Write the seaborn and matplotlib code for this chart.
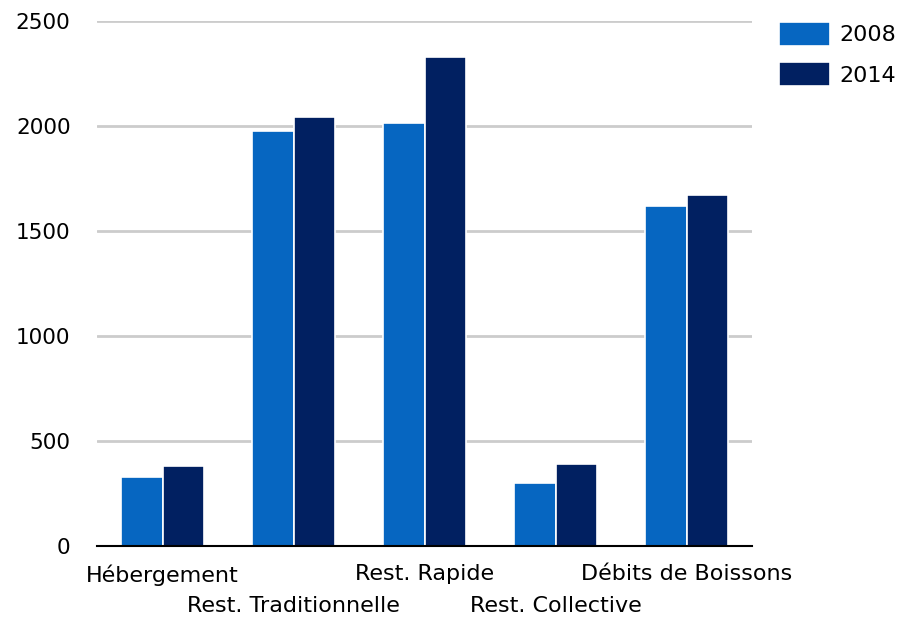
import pandas as pd
import matplotlib
matplotlib.use('Agg')
import matplotlib.pyplot as plt
import seaborn as sns

# valeurs
categories = ['Hébergement', 'Rest. Traditionnelle', 'Rest. Rapide',
              'Rest. Collective', 'Débits de Boissons']
years = ['2008', '2014']
val_2008 = [330, 1975, 2015, 300, 1620]
val_2014 = [380, 2045, 2330, 390, 1670]
y_ticks = [0, 500, 1000, 1500, 2000, 2500]

colors = {'2008': '#0666c1', '2014': '#012061'}

df = pd.DataFrame({
    'categorie': categories * 2,
    'annee': [years[0]] * len(categories) + [years[1]] * len(categories),
    'valeur': val_2008 + val_2014,
})

sns.set_style('white')
plt.rcParams['font.family'] = ['DejaVu Sans']
plt.rcParams['text.color'] = 'black'
plt.rcParams['xtick.color'] = 'black'
plt.rcParams['ytick.color'] = 'black'

fig = plt.figure(figsize=(9.02, 6.22), dpi=100)
ax = fig.add_axes([97 / 902, 1 - 546 / 622, 655 / 902, 525 / 622])

sns.barplot(data=df, x='categorie', y='valeur', hue='annee', palette=colors,
            saturation=1, width=0.64, edgecolor='white', linewidth=1.2,
            ax=ax, legend=True)

ax.set_xlim(-0.5, 4.5)
ax.set_ylim(0, 2500)
ax.set_yticks(y_ticks)
ax.set_yticklabels([str(t) for t in y_ticks], fontsize=15.5)
ax.yaxis.grid(True, color='#cccccc', linewidth=2)
ax.set_axisbelow(True)

# étiquettes en quinconce : paires en haut (majeures), impaires en bas (mineures)
pos = list(range(len(categories)))
ax.set_xticks(pos[::2])
ax.set_xticklabels(categories[::2], fontsize=16)
ax.set_xticks(pos[1::2], minor=True)
ax.set_xticklabels(categories[1::2], minor=True, fontsize=16)
ax.tick_params(axis='y', length=0, pad=19)
ax.tick_params(axis='x', which='major', length=0, pad=13)
ax.tick_params(axis='x', which='minor', length=0, pad=36)
ax.set_xlabel('')
ax.set_ylabel('')

for side in ['left', 'right', 'top']:
    ax.spines[side].set_visible(False)
ax.spines['bottom'].set_color('black')
ax.spines['bottom'].set_linewidth(1.5)

handles, lbls = ax.get_legend_handles_labels()
ax.get_legend().remove()
fig.legend(handles, lbls, loc='upper left', bbox_to_anchor=(772 / 902, 1 - 15 / 622),
           frameon=False, fontsize=16, handlelength=2.3, handleheight=1.3,
           handletextpad=0.45, labelspacing=0.73, borderaxespad=0, borderpad=0.3)

fig.savefig('out.png', dpi=100)
